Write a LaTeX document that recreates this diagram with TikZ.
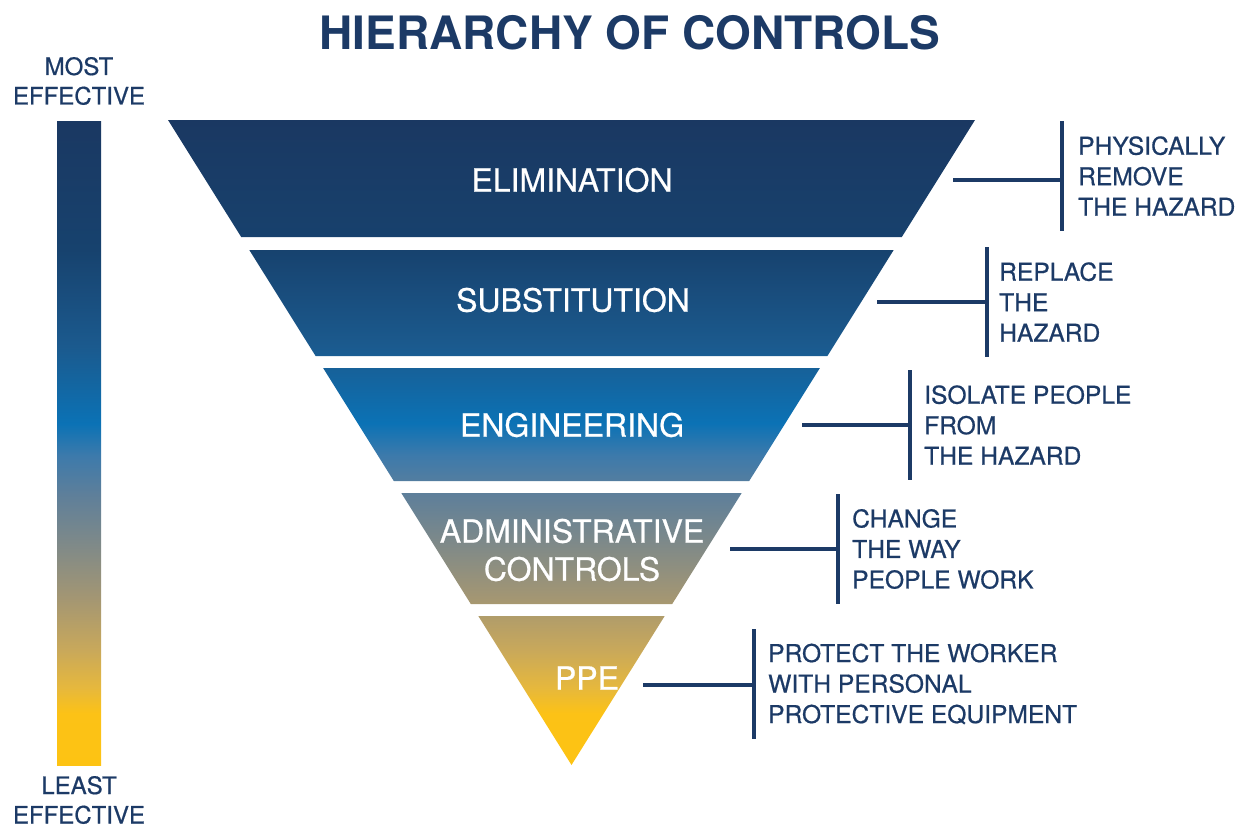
\documentclass[tikz,border=0pt]{standalone}
\usepackage{fontspec}
\setmainfont{TeX Gyre Heros}
\usetikzlibrary{calc}
\definecolor{navy}{HTML}{1C3A66}
\definecolor{hocA}{RGB}{253,195,19}
\definecolor{hocB}{RGB}{252,194,22}
\definecolor{hocC}{RGB}{230,184,61}
\definecolor{hocD}{RGB}{200,168,91}
\definecolor{hocE}{RGB}{163,150,115}
\definecolor{hocF}{RGB}{128,138,136}
\definecolor{hocG}{RGB}{94,127,154}
\definecolor{hocH}{RGB}{61,122,171}
\definecolor{hocI}{RGB}{11,114,181}
\definecolor{hocJ}{RGB}{27,90,142}
\definecolor{hocK}{RGB}{23,66,110}
\definecolor{hocL}{RGB}{26,56,98}
\pgfdeclareverticalshading{hoc}{100bp}{
    color(0bp)=(hocA); color(25bp)=(hocA); color(29bp)=(hocB);
    color(31bp)=(hocC); color(34bp)=(hocD); color(38bp)=(hocE);
    color(42bp)=(hocF); color(46bp)=(hocG); color(49bp)=(hocH);
    color(51.5bp)=(hocI); color(57.5bp)=(hocJ); color(65bp)=(hocK);
    color(75bp)=(hocL); color(100bp)=(hocL)}
\newfontfamily\medfont[FakeBold=0.6]{TeX Gyre Heros}
\tikzset{
    band/.style={text=white, align=center, font=\medfont\fontsize{32}{38}\selectfont},
    desc/.style={text=navy, align=left, anchor=west, inner xsep=14pt, minimum height=109pt,
        font=\medfont\fontsize{24.6}{30.5}\selectfont},
    side/.style={text=navy, align=center, inner sep=1pt, font=\medfont\fontsize{24}{29.5}\selectfont},
    tie/.style={navy, line width=4pt}
}
\begin{document}
\begin{tikzpicture}[x=1pt,y=-1pt]
	    \useasboundingbox (0,0) rectangle (1247,827);
	    \node[text=navy, font=\bfseries\fontsize{46}{50}\selectfont] (title) at (630,33) {HIERARCHY OF CONTROLS};
	    % effectiveness bar
	    \shade[shading=hoc] (57,121) rectangle (101,765);
	    \node[side] (most) at (79,81) {MOST\\EFFECTIVE};
	    \node[side] (least) at (79,800) {LEAST\\EFFECTIVE};
	    % bands of the triangle
	    \begin{scope}
		\clip (168,120) -- (975,120) -- (901.8,237) -- (241.2,237) -- cycle
		      (249.3,250) -- (893.7,250) -- (827.4,356) -- (315.6,356) -- cycle
		      (323.1,368) -- (819.9,368) -- (749.2,481) -- (393.8,481) -- cycle
		      (401.3,493) -- (741.7,493) -- (672.2,604) -- (470.8,604) -- cycle
		      (478.3,616) -- (664.7,616) -- (571.5,765) -- cycle;
		\shade[shading=hoc] (168,120) rectangle (975,765);
	    \end{scope}
	    \node[band] (elim) at (572,180) {ELIMINATION};
	    \node[band] (subst) at (573,300) {SUBSTITUTION};
	    \node[band] (eng) at (572,425) {ENGINEERING};
	    \node[band] (admin) at (572,550) {ADMINISTRATIVE\\CONTROLS};
	    \node[band] (ppe) at (587,678) {PPE};
	    % descriptions
	    \node[desc, inner xsep=16pt] (d1) at (1062,176) {PHYSICALLY\\REMOVE\\THE HAZARD};
	    \node[desc, inner xsep=12pt] (d2) at (987,302) {REPLACE\\THE\\HAZARD};
	    \node[desc] (d3) at (910,425) {ISOLATE PEOPLE\\FROM\\THE HAZARD};
	    \node[desc] (d4) at (838,549) {CHANGE\\THE WAY\\PEOPLE WORK};
	    \node[desc] (d5) at (754,684) {PROTECT THE WORKER\\WITH PERSONAL\\PROTECTIVE EQUIPMENT};
	    \coordinate (c1) at (953,180);
	    \coordinate (c2) at (877,302);
	    \coordinate (c3) at (802,425);
	    \coordinate (c4) at (730,549);
	    \coordinate (c5) at (643,685);
	    \draw[tie] (d1.north west) -- (d1.south west) (c1) -- (c1 -| d1.west);
	    \draw[tie] (d2.north west) -- (d2.south west) (c2) -- (c2 -| d2.west);
	    \draw[tie] (d3.north west) -- (d3.south west) (c3) -- (c3 -| d3.west);
	    \draw[tie] (d4.north west) -- (d4.south west) (c4) -- (c4 -| d4.west);
	    \draw[tie] (d5.north west) -- (d5.south west) (c5) -- (c5 -| d5.west);
	\end{tikzpicture}
\end{document}
